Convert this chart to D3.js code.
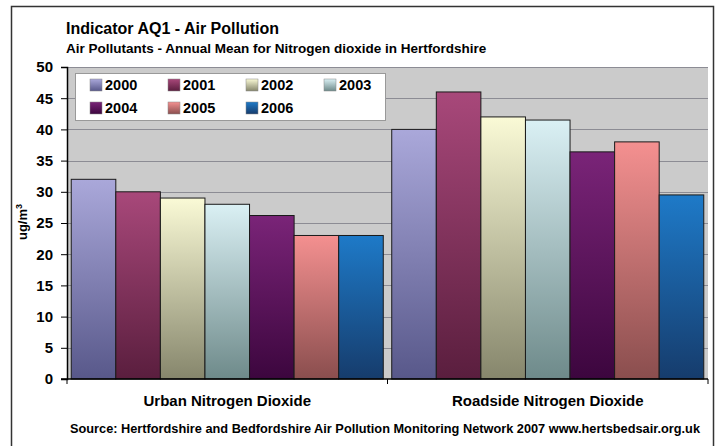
<!DOCTYPE html>
<html lang="en">
<head>
<meta charset="utf-8">
<title>Indicator AQ1 - Air Pollution</title>
<style>
  body { margin: 0; background: #fff; }
  svg text { font-family: "Liberation Sans", Arial, sans-serif; font-weight: bold; fill: #000; }
</style>
</head>
<body>
<svg width="719" height="446"></svg>
<script src="https://cdn.jsdelivr.net/npm/d3@7"></script>
<script>
// data
var categories = ['Urban Nitrogen Dioxide', 'Roadside Nitrogen Dioxide'];
var years = ['2000', '2001', '2002', '2003', '2004', '2005', '2006'];
var urban = [32, 30, 29, 28, 26.2, 23, 23];
var roadside = [40, 46, 42, 41.5, 36.4, 38, 29.5];
var yTicks = [0, 5, 10, 15, 20, 25, 30, 35, 40, 45, 50];
// top / bottom gradient colours per year
var topColors = ['#aaa8da', '#a8487a', '#fafad6', '#daf0f4', '#7a2478', '#f49090', '#1e7ac8'];
var bottomColors = ['#58588a', '#5a1e3e', '#86866c', '#6e8a8a', '#3c063e', '#8a4e4e', '#163c6c'];

var svg = d3.select('svg');
var series = [urban, roadside];

// outer frame (bottom edge runs off the picture)
svg.append('rect')
  .attr('x', 11.5).attr('y', 6.5)
  .attr('width', 702).attr('height', 460)
  .attr('fill', '#fff').attr('stroke', '#333').attr('stroke-width', 1.5);

var x0 = d3.scaleBand().domain(categories).range([67, 708]).padding(0);
var x1 = d3.scaleBand().domain(years).range([0, x0.bandwidth()]).paddingInner(0).paddingOuter(0.095);
var y = d3.scaleLinear().domain([0, 50]).range([379, 67]);

var defs = svg.append('defs');
years.forEach(function(yr, i) {
  var g = defs.append('linearGradient')
    .attr('id', 'g' + yr)
    .attr('x1', 0).attr('y1', 0).attr('x2', 0).attr('y2', 1);
  g.append('stop').attr('offset', '0%').attr('stop-color', topColors[i]);
  g.append('stop').attr('offset', '100%').attr('stop-color', bottomColors[i]);
});

// plot background
svg.append('rect')
  .attr('x', 67).attr('y', y(50))
  .attr('width', 708 - 67).attr('height', y(0) - y(50))
  .attr('fill', '#cbcbcb');

// gridlines
svg.append('g')
  .selectAll('line')
  .data(yTicks.filter(function(t) { return t > 0; }))
  .enter()
  .append('line')
  .attr('x1', 67).attr('x2', 708)
  .attr('y1', function(d) { return Math.round(y(d)) + 0.5; })
  .attr('y2', function(d) { return Math.round(y(d)) + 0.5; })
  .attr('stroke', '#8c8c94').attr('stroke-width', 1);

// bars
var groups = svg.append('g')
  .selectAll('g')
  .data(categories)
  .enter()
  .append('g')
  .attr('transform', function(d) { return 'translate(' + x0(d) + ',0)'; });

groups.selectAll('rect')
  .data(function(d, ci) {
    return years.map(function(yr, i) { return { year: yr, value: series[ci][i] }; });
  })
  .enter()
  .append('rect')
  .attr('x', function(d) { return x1(d.year); })
  .attr('y', function(d) { return y(d.value); })
  .attr('width', x1.bandwidth())
  .attr('height', function(d) { return y(0) - y(d.value); })
  .attr('fill', function(d) { return 'url(#g' + d.year + ')'; })
  .attr('stroke', '#1a1a1a').attr('stroke-width', 1);

// y axis
var yAxis = svg.append('g')
  .attr('transform', 'translate(67,0)')
  .call(d3.axisLeft(y).tickValues(yTicks).tickSize(6).tickPadding(8));
yAxis.select('.domain').attr('stroke', '#000').attr('stroke-width', 1.5);
yAxis.selectAll('.tick line').attr('stroke', '#000');
yAxis.selectAll('text').style('font-size', '15px').style('font-weight', 'bold')
  .style('font-family', '"Liberation Sans", Arial, sans-serif');

// x axis
var xAxisG = svg.append('g');
xAxisG.append('line')
  .attr('x1', 61).attr('x2', 708)
  .attr('y1', y(0)).attr('y2', y(0))
  .attr('stroke', '#000').attr('stroke-width', 1.5);
xAxisG.selectAll('line.tk')
  .data([67, x0(categories[1]), 708])
  .enter()
  .append('line')
  .attr('class', 'tk')
  .attr('x1', function(d) { return d; }).attr('x2', function(d) { return d; })
  .attr('y1', y(0)).attr('y2', y(0) + 5)
  .attr('stroke', '#000');
xAxisG.selectAll('text')
  .data(categories)
  .enter()
  .append('text')
  .attr('x', function(d) { return x0(d) + x0.bandwidth() / 2; })
  .attr('y', 406)
  .attr('text-anchor', 'middle')
  .style('font-size', '15px')
  .text(function(d) { return d; });

// y axis title
var yt = svg.append('text')
  .attr('transform', 'translate(27,222) rotate(-90)')
  .attr('text-anchor', 'middle')
  .style('font-size', '13px');
yt.append('tspan').text('ug/m');
yt.append('tspan').attr('dy', -5).style('font-size', '9px').text('3');

// legend
var legend = svg.append('g');
legend.append('rect')
  .attr('x', 75.5).attr('y', 73.5)
  .attr('width', 310).attr('height', 47)
  .attr('fill', '#fff').attr('stroke', '#999').attr('stroke-width', 1);
var legendCols = [90, 168, 246, 324];
var li = legend.selectAll('g.item')
  .data(years)
  .enter()
  .append('g')
  .attr('class', 'item')
  .attr('transform', function(d, i) {
    return 'translate(' + legendCols[i % 4] + ',' + (i < 4 ? 79 : 102) + ')';
  });
li.append('rect')
  .attr('width', 12).attr('height', 12)
  .attr('fill', function(d) { return 'url(#g' + d + ')'; })
  .attr('stroke', '#888').attr('stroke-width', 0.5);
li.append('text')
  .attr('x', 15).attr('y', 11)
  .style('font-size', '14.5px')
  .text(function(d) { return d; });

// titles
svg.append('text')
  .attr('x', 66).attr('y', 34)
  .style('font-size', '16px')
  .text('Indicator AQ1 - Air Pollution');
svg.append('text')
  .attr('x', 66).attr('y', 53)
  .style('font-size', '13.5px')
  .text('Air Pollutants - Annual Mean for Nitrogen dioxide in Hertfordshire');
svg.append('text')
  .attr('x', 385).attr('y', 433)
  .attr('text-anchor', 'middle')
  .attr('textLength', 630)
  .attr('lengthAdjust', 'spacingAndGlyphs')
  .style('font-size', '12.5px')
  .text('Source: Hertfordshire and Bedfordshire Air Pollution Monitoring Network 2007 www.hertsbedsair.org.uk');
</script>
</body>
</html>
